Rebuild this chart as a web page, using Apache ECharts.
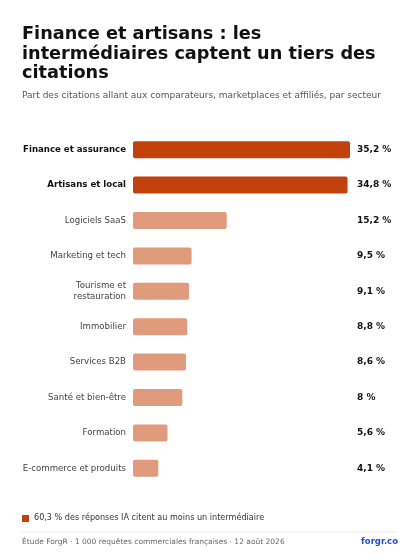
<!DOCTYPE html>
<html style="height: 100%">
<head>
<meta charset="utf-8">
<script src="https://cdn.jsdelivr.net/npm/echarts@6/dist/echarts.min.js"></script>
</head>
<body style="height: 100%; margin: 0; background: #fff">
<div id="container" style="width: 420px; height: 560px"></div>
<script>
var categories = ['Finance et assurance', 'Artisans et local', 'Logiciels SaaS', 'Marketing et tech',
  'Tourisme et\nrestauration', 'Immobilier', 'Services B2B', 'Santé et bien-être', 'Formation', 'E-commerce et produits'];
var values = [35.2, 34.8, 15.2, 9.5, 9.1, 8.8, 8.6, 8, 5.6, 4.1];
var highlighted = [true, true, false, false, false, false, false, false, false, false];

var font = 'DejaVu Sans, sans-serif';
var chart = echarts.init(document.getElementById('container'));

var data = values.map(function (v, i) {
  return {
    value: v,
    itemStyle: { color: highlighted[i] ? '#c2410c' : '#e09a7c' }
  };
});
var valueLabels = values.map(function (v) { return String(v).replace('.', ',') + ' %'; });

chart.setOption({
  animation: false,
  textStyle: { fontFamily: font },
  grid: { left: 133, right: 70, top: 132, bottom: 74 },
  xAxis: { type: 'value', min: 0, max: 35.2, show: false },
  yAxis: [{
    type: 'category', inverse: true, data: categories,
    axisLine: { show: false }, axisTick: { show: false },
    axisLabel: {
      margin: 7, fontSize: 8.6, lineHeight: 11, color: '#444', align: 'right',
      formatter: function (v, i) { return highlighted[i] ? '{b|' + v + '}' : v; },
      rich: { b: { fontWeight: 'bold', color: '#111', fontSize: 8.6 } }
    }
  }, {
    type: 'category', inverse: true, position: 'right', data: valueLabels,
    axisLine: { show: false }, axisTick: { show: false },
    axisLabel: { margin: 7, fontSize: 9, fontWeight: 'bold', color: '#111', align: 'left' }
  }],
  series: [{
    type: 'bar', data: data, barWidth: 17,
    itemStyle: { borderRadius: 2 }
  }],
  graphic: [
    { type: 'text', left: 22, top: 25, style: { text: 'Finance et artisans : les\nintermédiaires captent un tiers des\ncitations', font: 'bold 17.7px ' + font, lineHeight: 19.5, fill: '#111' } },
    { type: 'text', left: 22, top: 91, style: { text: 'Part des citations allant aux comparateurs, marketplaces et affiliés, par secteur', font: '9px ' + font, fill: '#555' } },
    { type: 'rect', left: 22, top: 515, shape: { width: 7, height: 7 }, style: { fill: '#c2410c' } },
    { type: 'text', left: 34, top: 514, style: { text: '60,3 % des réponses IA citent au moins un intermédiaire', font: '8.1px ' + font, fill: '#333' } },
    { type: 'line', shape: { x1: 22, y1: 532, x2: 398, y2: 532 }, style: { stroke: '#ececec', lineWidth: 1 } },
    { type: 'text', left: 22, top: 538, style: { text: 'Étude ForgR · 1 000 requêtes commerciales françaises · 12 août 2026', font: '7.5px ' + font, fill: '#666' } },
    { type: 'text', right: 22, top: 537, style: { text: 'forgr.co', font: 'bold 8.5px ' + font, fill: '#1d4ed8' } }
  ]
});
</script>
</body>
</html>
